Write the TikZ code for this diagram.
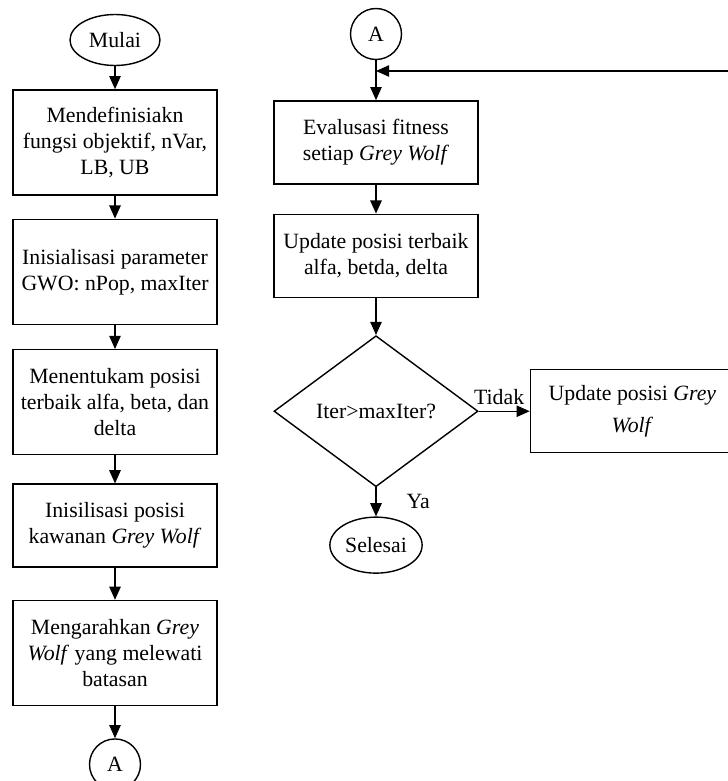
\documentclass[tikz,border=0pt]{standalone}
\usepackage{fontspec}
\setmainfont{Liberation Serif}
\usetikzlibrary{arrows.meta,shapes.geometric,positioning}

\begin{document}
\begin{tikzpicture}[
	> = {Triangle[length=7.5pt,width=6.5pt]}, % arrow head style
	node distance = .5cm, % distance between nodes
	line width = .8pt, % line style
	font = \fontsize{12.4}{14.8}\selectfont,
	T/.style={ellipse, draw=black, inner sep=1pt, minimum width=1.8cm, minimum height=1.02cm},  % start / end
	C/.style={circle, draw=black, inner sep=1pt, minimum size=1.02cm},  % connector
	P/.style={rectangle, draw=black, align=center, inner sep=2pt, minimum width=4.08cm, minimum height=2.1cm},  % process
	Q/.style={P, minimum height=1.66cm},  % short process
	D/.style={diamond, draw=black, aspect=1.35, inner sep=0pt, minimum width=4.08cm, minimum height=3.02cm},  % decision
	]
	\useasboundingbox (0,0) rectangle (14.56,-15.62);

	% Left column
	\node[T] (Mulai) at (2.3,-.8) {Mulai};
	\node[P] (Def) [below = .46 of Mulai] {Mendefinisiakn\\ fungsi objektif, nVar,\\ LB, UB};
	\node[P] (Param) [below = .46 of Def] {Inisialisasi parameter\\ GWO: nPop, maxIter};
	\node[P] (Best) [below = .48 of Param] {Menentukam posisi\\ terbaik alfa, beta, dan\\ delta};
	\node[Q] (Init) [below = .56 of Best] {Inisilisasi posisi\\ kawanan \textit{Grey Wolf}};
	\node[P] (Arah) [below = .64 of Init] {Mengarahkan \textit{Grey}\\ \textit{Wolf} yang melewati\\ batasan};
	\node[C] (A1) [below = .64 of Arah] {A};

	% Right column
	\node[C] (A2) at (7.52,-.68) {A};
	\node[Q] (Eval) [below = .8 of A2] {Evalusasi fitness\\ setiap \textit{Grey Wolf}};
	\node[Q] (Upd) [below = .58 of Eval] {Update posisi terbaik\\ alfa, betda, delta};
	\node[D] (Iter) [below = .74 of Upd] {Iter>maxIter?};
	\node[T] (Selesai) [below = .58 of Iter, minimum width=1.76cm, minimum height=1.12cm] {Selesai};
	\node[Q] (Gerak) [right = 1.02 of Iter] {Update posisi \textit{Grey}\\[.12cm] \textit{Wolf}};
	\coordinate (Balik) at (14.56,-1.42);

	% Paths connecting nodes
	\path[->] (Mulai) edge (Def);
	\path[->] (Def) edge (Param);
	\path[->] (Param) edge (Best);
	\path[->] (Best) edge (Init);
	\path[->] (Init) edge (Arah);
	\path[->] (Arah) edge (A1);
	\path[->] (A2) edge (Eval);
	\path[->] (Eval) edge (Upd);
	\path[->] (Upd) edge (Iter);
	\path[->] (Iter) edge node[above, pos=.4] {Tidak} (Gerak);
	\path[->] (Iter) edge node[right=.48cm] {Ya} (Selesai);
	\draw[->] (Balik) -- (A2.south |- Balik);

\end{tikzpicture}
\end{document}
